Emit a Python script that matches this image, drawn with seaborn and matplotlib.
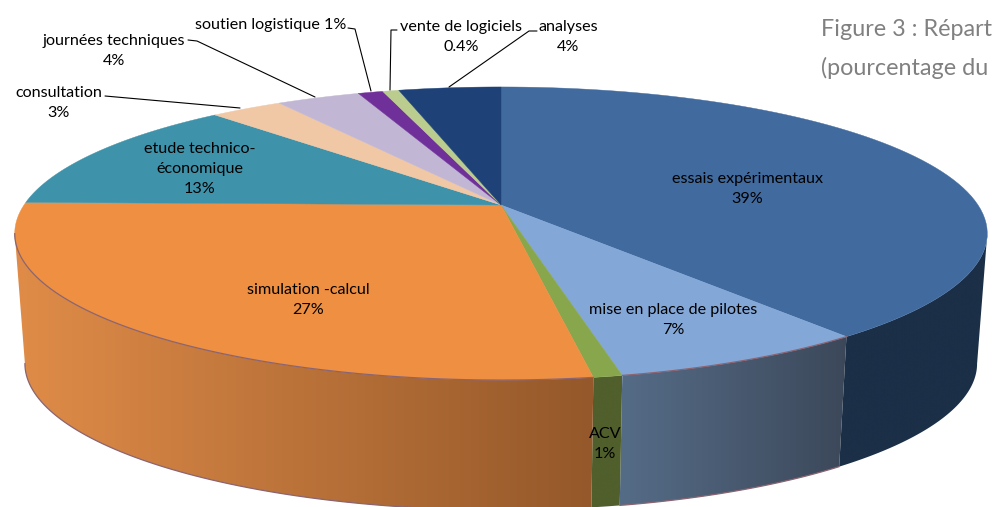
import numpy as np
import matplotlib
matplotlib.use("Agg")
import matplotlib.pyplot as plt
from matplotlib.patches import Polygon
import seaborn as sns

# values (the printed labels are rounded differently)
categories = ["essais", "mise en place", "ACV", "simulation", "etude",
              "consultation", "journees", "soutien", "vente", "analyses"]
shares = [39.5, 7.2, 0.8, 27.8, 12.7, 2.9, 3.35, 1.0, 0.65, 4.1]
top_colors = ["#416A9E", "#83A8D8", "#88A64C", "#EE8F42", "#3E92AA",
              "#F0C8A5", "#C1B7D4", "#70309A", "#BACD8E", "#1E4278"]
wall_left = ["#1B2F47", "#556C87", "#505F2C", "#E08C48", "#26586A",
             "#A08060", "#706880", "#40205A", "#6C7A50", "#102848"]
wall_right = ["#1B2F47", "#3C485A", "#505F2C", "#94582A", "#26586A",
              "#A08060", "#706880", "#40205A", "#6C7A50", "#102848"]
red_edge = [False, True, False, True, False, False, False, False, False, False]

labels = ["essais expérimentaux\n39%", "mise en place de pilotes\n7%", "ACV\n1%",
          "simulation -calcul\n27%", "etude technico-\néconomique\n13%",
          "consultation\n3%", "journées techniques\n4%", "soutien logistique 1%",
          "vente de logiciels\n0.4%", "analyses\n4%"]
label_xy = [(747, 189), (673, 320), (605, 444), (308, 300), (200, 169),
            (59, 103), (114, 51), (271, 25), (461, 37), (568, 37)]
leaders = [[(105, 96), (240, 108)],
           [(188, 40), (197, 41), (315, 97)],
           [(348, 28), (355, 29), (371, 91)],
           [(397, 30), (391, 30), (390, 90)],
           [(537, 31), (529, 31), (449, 87)]]

# perspective of the disc, in pixels
K = 0.1945
X0 = 501
TOP = dict(a=141, b=477, y0=205)
BOTTOM = dict(a=141, b=467, y0=335)
FRONT_L = np.arccos(-K)                # silhouette of the cylinder
FRONT_R = 2 * np.pi - FRONT_L


def project(theta, a, b, y0):
    d = 1 + K * np.cos(theta)
    return X0 + b * np.sin(theta) / d, y0 - a * np.cos(theta) / d


sns.set_theme(style="white")
plt.rcParams['font.family'] = ['Lato', 'DejaVu Sans']

fig = plt.figure(figsize=(9.93, 5.07), dpi=100)
ax = fig.add_axes([0, 0, 1, 1])
ax.set_axis_off()

edges = np.cumsum([0] + shares) / np.sum(shares) * 2 * np.pi

for i in range(len(shares)):
    t0, t1 = edges[i], edges[i + 1]

    # top face
    th = np.linspace(t0, t1, 80)
    x, y = project(th, **TOP)
    ax.fill(np.r_[X0, x], np.r_[TOP['y0'], y], color=top_colors[i], lw=0.3, zorder=3)

    # wall, only the part facing the viewer
    w0, w1 = max(t0, FRONT_L), min(t1, FRONT_R)
    if w1 <= w0:
        continue
    th = np.linspace(w0, w1, 80)
    xt, yt = project(th, **TOP)
    xb, yb = project(th, **BOTTOM)
    poly_x = np.r_[xt, xb[::-1]]
    poly_y = np.r_[yt, yb[::-1]]
    cmap = sns.blend_palette([wall_left[i], wall_right[i]], as_cmap=True)
    im = ax.imshow(np.linspace(0, 1, 256)[None, :], cmap=cmap, aspect='auto', zorder=1,
                   extent=[poly_x.min(), poly_x.max(), poly_y.max(), poly_y.min()])
    im.set_clip_path(Polygon(np.c_[poly_x, poly_y], transform=ax.transData))
    if red_edge[i]:
        ax.plot(xt, yt, color="#8A6470", lw=0.9, zorder=4)
        ax.plot(xb, yb, color="#8A6470", lw=0.9, zorder=2)

ax.set_xlim(0, 993)
ax.set_ylim(507, 0)

for pts in leaders:
    ax.plot([p[0] for p in pts], [p[1] for p in pts], color="black", lw=0.8, zorder=5)

for txt, (lx, ly) in zip(labels, label_xy):
    ax.text(lx, ly, txt, ha="center", va="center", fontsize=11.6, color="black",
            linespacing=1.55, zorder=6)

# the reference cuts these at the right edge, here they are kept just inside it
ax.text(821, 29, "Figure 3 : Répart", color="#808080", fontsize=16.8, va="center", zorder=6)
ax.text(821, 68, "(pourcentage du", color="#808080", fontsize=16.8, va="center", zorder=6)

fig.savefig("out.png", dpi=100)
